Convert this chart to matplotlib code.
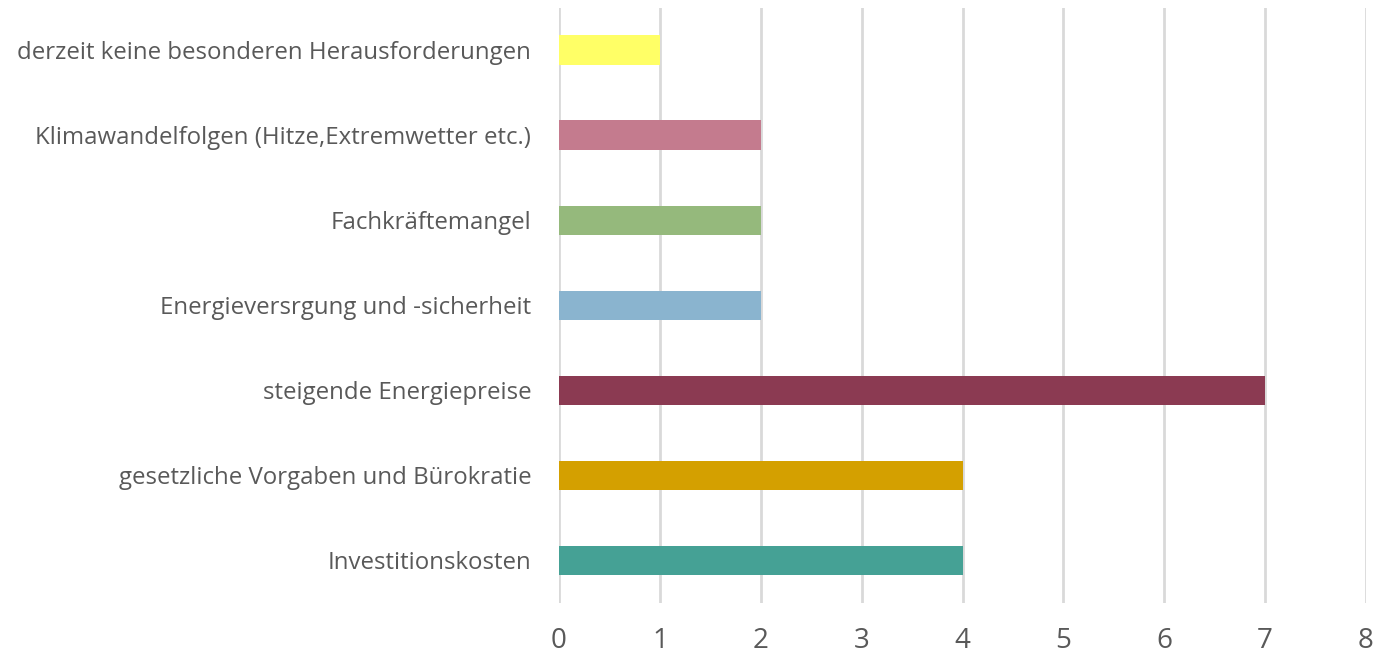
import matplotlib.pyplot as plt

# categories from bottom to top
categories = [
    'Investitionskosten',
    'gesetzliche Vorgaben und Bürokratie',
    'steigende Energiepreise',
    'Energieversrgung und -sicherheit',
    'Fachkräftemangel',
    'Klimawandelfolgen (Hitze,Extremwetter etc.)',
    'derzeit keine besonderen Herausforderungen',
]
values = [4, 4, 7, 2, 2, 2, 1]
colors = ['#45A195', '#D4A000', '#8B3A52', '#8AB4CF', '#95B97C', '#C47B8E', '#FFFF66']
xticks = [0, 1, 2, 3, 4, 5, 6, 7, 8]

plt.rcParams['font.family'] = ['Open Sans', 'DejaVu Sans']

fig = plt.figure(figsize=(13.78, 6.54), dpi=100)
ax = fig.add_axes([0.4057, 0.078, 0.5856, 0.91])

ax.barh(range(len(categories)), values, height=0.35, color=colors, zorder=3)

ax.set_xlim(0, 8)
ax.set_ylim(-0.5, len(categories) - 0.5)
ax.set_xticks(xticks)
ax.set_yticks(range(len(categories)))
ax.set_yticklabels(categories)

ax.grid(axis='x', color='#d9d9d9', linewidth=2, zorder=0)
for s in ax.spines.values():
    s.set_visible(False)

ax.tick_params(axis='y', length=0, pad=20, labelsize=17.3, labelcolor='#595959')
ax.tick_params(axis='x', length=0, pad=17, labelsize=20, labelcolor='#595959')

fig.savefig('out.png', dpi=100, facecolor='white')
